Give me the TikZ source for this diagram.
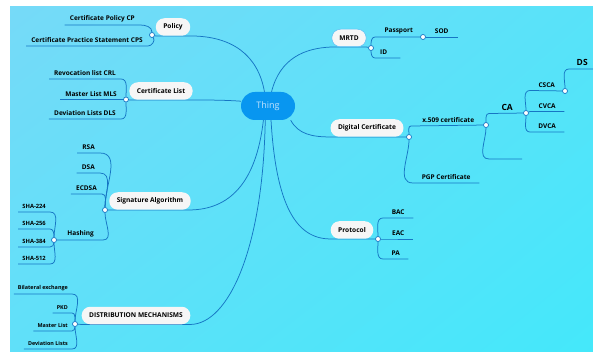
\documentclass[tikz,border=0pt]{standalone}
\usepackage{fontspec}
\setmainfont{Open Sans}
\usetikzlibrary{backgrounds, shadings}
\definecolor{bgleft}{RGB}{118,218,248}
\definecolor{bgright}{RGB}{68,232,250}
\definecolor{linec}{RGB}{22,118,196}
\definecolor{thingfill}{RGB}{8,150,240}
\definecolor{thingtext}{RGB}{196,228,255}
\definecolor{topicfill}{RGB}{246,246,246}
\definecolor{selline}{RGB}{90,190,245}
\tikzset{
    topic/.style={rectangle, rounded corners=8.5pt, fill=topicfill, minimum height=17.5pt, inner xsep=7.5pt, font=\bfseries\fontsize{6.6}{7}\selectfont},
    central/.style={rectangle, rounded corners=14pt, fill=thingfill, text=thingtext, minimum width=54pt, minimum height=28pt, font=\fontsize{9}{10}\selectfont},
    leaf/.style={inner xsep=5pt, inner ysep=3pt, font=\bfseries\fontsize{6.5}{7}\selectfont},
    small/.style={leaf, inner xsep=4pt, font=\bfseries\fontsize{5.4}{6}\selectfont},
    big/.style={leaf, font=\bfseries\fontsize{8.5}{9}\selectfont},
    hub/.style={circle, draw=linec, fill=white, line width=0.7pt, inner sep=0pt, minimum size=5pt},
    branch/.style={draw=linec, line width=0.75pt}
}
\begin{document}
\begin{tikzpicture}[x=1pt,y=1pt]
\useasboundingbox (0,0) rectangle (593,-352);
\node[central] (thing) at (268,-106) {Thing};

\node[topic] (policy) at (173,-27) {Policy};
\node[topic] (certlist) at (161,-91) {Certificate List};
\node[topic] (sigalg) at (150,-201) {Signature Algorithm};
\node[topic] (distmech) at (136,-315.5) {DISTRIBUTION MECHANISMS};
\node[topic, draw=selline, line width=0.5pt] (mrtd) at (349,-38) {MRTD};
\node[topic] (digcert) at (367,-128) {Digital Certificate};
\node[topic] (protocol) at (352,-230) {Protocol};

\node[hub] (policyhub) at (152,-35) {};
\node[hub] (certlisthub) at (126,-99.5) {};
\node[hub] (sigalghub) at (105,-210) {};
\node[hub] (distmechhub) at (75,-324) {};
\node[hub] (mrtdhub) at (371,-48) {};
\node[hub] (digcerthub) at (409,-137) {};
\node[hub] (protocolhub) at (378,-239) {};

\node[leaf, anchor=south east] (cp) at (140,-25) {Certificate Policy CP};
\node[leaf, anchor=south east] (cps) at (148,-46) {Certificate Practice Statement CPS};
\node[leaf, anchor=south east] (crl) at (121,-79) {Revocation list CRL};
\node[leaf, anchor=south east] (mls) at (122,-99.5) {Master List MLS};
\node[leaf, anchor=south east] (dls) at (121,-119) {Deviation Lists DLS};
\node[leaf, anchor=south east] (rsa) at (100,-153) {RSA};
\node[leaf, anchor=south east] (dsa) at (100,-173) {DSA};
\node[leaf, anchor=south east] (ecdsa) at (102,-194) {ECDSA};
\node[leaf, anchor=south east, inner xsep=9pt] (hashing) at (103,-240) {Hashing};
\node[hub] (hashinghub) at (54,-240) {};
\node[small, font=\bfseries\fontsize{5.8}{6}\selectfont, anchor=south east] (sha224) at (50,-212) {SHA-224};
\node[small, font=\bfseries\fontsize{5.8}{6}\selectfont, anchor=south east] (sha256) at (50,-229) {SHA-256};
\node[small, font=\bfseries\fontsize{5.8}{6}\selectfont, anchor=south east] (sha384) at (50,-247) {SHA-384};
\node[small, font=\bfseries\fontsize{5.8}{6}\selectfont, anchor=south east] (sha512) at (50,-264) {SHA-512};
\node[small, anchor=south east] (bilateral) at (72,-294) {Bilateral exchange};
\node[small, anchor=south east] (pkd) at (72,-313) {PKD};
\node[small, anchor=south east] (masterlist) at (72,-331) {Master List};
\node[small, anchor=south east] (devlists) at (72,-349) {Deviation Lists};

\node[leaf, anchor=south west, minimum width=47pt] (passport) at (375,-37) {Passport};
\node[hub] (passporthub) at (423,-37) {};
\node[leaf, anchor=south west, minimum width=33pt] (sod) at (425,-37) {SOD};
\node[leaf, anchor=south west, minimum width=24pt, align=left] (id) at (375,-58) {ID\hspace{8pt}};
\node[leaf, anchor=south west, minimum width=74pt] (xcert) at (411,-126) {x.509 certificate};
\node[hub] (xcerthub) at (486,-125) {};
\node[leaf, anchor=south west, minimum width=66pt] (pgp) at (413,-183) {PGP Certificate};
\node[big, anchor=south west, minimum width=36pt] (ca) at (489,-113.5) {CA};
\coordinate (blankl) at (489,-159);
\coordinate (blankr) at (522,-159);
\node[hub] (cahub) at (526,-113) {};
\node[leaf, anchor=south west, minimum width=33pt] (csca) at (530,-90.5) {CSCA};
\node[hub] (cscahub) at (565,-91) {};
\node[leaf, anchor=south west, minimum width=34pt] (cvca) at (530,-111.5) {CVCA};
\node[leaf, anchor=south west, minimum width=34pt] (dvca) at (530,-132) {DVCA};
\node[big, anchor=south west, minimum width=26pt] (ds) at (569,-69) {DS};
\node[leaf, anchor=south west, minimum width=30pt] (bac) at (383,-218) {BAC};
\node[leaf, anchor=south west, minimum width=30pt] (eac) at (383,-239) {EAC};
\node[leaf, anchor=south west, minimum width=25pt] (pa) at (383,-259) {PA};

\begin{scope}[on background layer]
\fill[white] (0,0) rectangle (593,-352);
\shade[upper left=bgleft, upper right=bgright!60!bgleft, lower left=bgleft!55!bgright, lower right=bgright] (10,-7) rectangle (593,-352);
\draw[branch] (thing.104) .. controls (258,-55) and (232,-36) .. (policy.south east) -- (policy.south west) -- (policyhub);
\draw[branch] (thing.170) .. controls (225,-100) and (205,-100) .. (certlist.south east) -- (certlist.south west) -- (certlisthub);
\draw[branch] (thing.252) .. controls (256,-185) and (228,-209) .. (sigalg.south east) -- (sigalg.south west) -- (sigalghub);
\draw[branch] (thing.259) .. controls (263,-250) and (228,-324) .. (distmech.south east) -- (distmech.south west) -- (distmechhub);
\draw[branch] (thing.76) .. controls (280,-58) and (305,-48) .. (mrtd.south west) -- (mrtd.south east) -- (mrtdhub);
\draw[branch] (thing.-32) .. controls (298,-134) and (312,-137) .. (digcert.south west) -- (digcert.south east) -- (digcerthub);
\draw[branch] (thing.-78) .. controls (276,-205) and (296,-239) .. (protocol.south west) -- (protocol.south east) -- (protocolhub);

\draw[branch] (policyhub) to[out=90,in=0] (cp.south east) -- (cp.south west);
\draw[branch] (policyhub) to[out=-60,in=0] (cps.south east) -- (cps.south west);
\draw[branch] (certlisthub) to[out=90,in=0] (crl.south east) -- (crl.south west);
\draw[branch] (certlisthub) -- (mls.south east) -- (mls.south west);
\draw[branch] (certlisthub) to[out=-90,in=0] (dls.south east) -- (dls.south west);
\draw[branch] (sigalghub) to[out=90,in=0] (rsa.south east) -- (rsa.south west);
\draw[branch] (sigalghub) to[out=90,in=0] (dsa.south east) -- (dsa.south west);
\draw[branch] (sigalghub) to[out=90,in=0] (ecdsa.south east) -- (ecdsa.south west);
\draw[branch] (sigalghub) to[out=-90,in=0] (hashing.south east) -- (hashing.south west) -- (hashinghub);
\draw[branch] (hashinghub) to[out=90,in=0] (sha224.south east) -- (sha224.south west);
\draw[branch] (hashinghub) to[out=90,in=0] (sha256.south east) -- (sha256.south west);
\draw[branch] (hashinghub) to[out=-90,in=0] (sha384.south east) -- (sha384.south west);
\draw[branch] (hashinghub) to[out=-90,in=0] (sha512.south east) -- (sha512.south west);
\draw[branch] (distmechhub) to[out=90,in=0] (bilateral.south east) -- (bilateral.south west);
\draw[branch] (distmechhub) to[out=90,in=0] (pkd.south east) -- (pkd.south west);
\draw[branch] (distmechhub) to[out=-90,in=0] (masterlist.south east) -- (masterlist.south west);
\draw[branch] (distmechhub) to[out=-90,in=0] (devlists.south east) -- (devlists.south west);

\draw[branch] (mrtdhub) to[out=90,in=180] (passport.south west) -- (passporthub);
\draw[branch] (passporthub) -- (sod.south east);
\draw[branch] (mrtdhub) to[out=-90,in=180] (id.south west) -- (id.south east);
\draw[branch] (digcerthub) to[out=90,in=180] (xcert.south west) -- (xcerthub);
\draw[branch] (digcerthub) to[out=-90,in=180] (pgp.south west) -- (pgp.south east);
\draw[branch] (xcerthub) to[out=90,in=180] (ca.south west) -- (cahub);
\draw[branch] (xcerthub) to[out=-90,in=180] (blankl) -- (blankr);
\draw[branch] (cahub) to[out=90,in=180] (csca.south west) -- (cscahub);
\draw[branch] (cahub) -- (cvca.south west) -- (cvca.south east);
\draw[branch] (cahub) to[out=-90,in=180] (dvca.south west) -- (dvca.south east);
\draw[branch] (cscahub) to[out=90,in=180] (ds.south west) -- (ds.south east);
\draw[branch] (protocolhub) to[out=90,in=180] (bac.south west) -- (bac.south east);
\draw[branch] (protocolhub) -- (eac.south west) -- (eac.south east);
\draw[branch] (protocolhub) to[out=-90,in=180] (pa.south west) -- (pa.south east);
\end{scope}
\end{tikzpicture}
\end{document}
